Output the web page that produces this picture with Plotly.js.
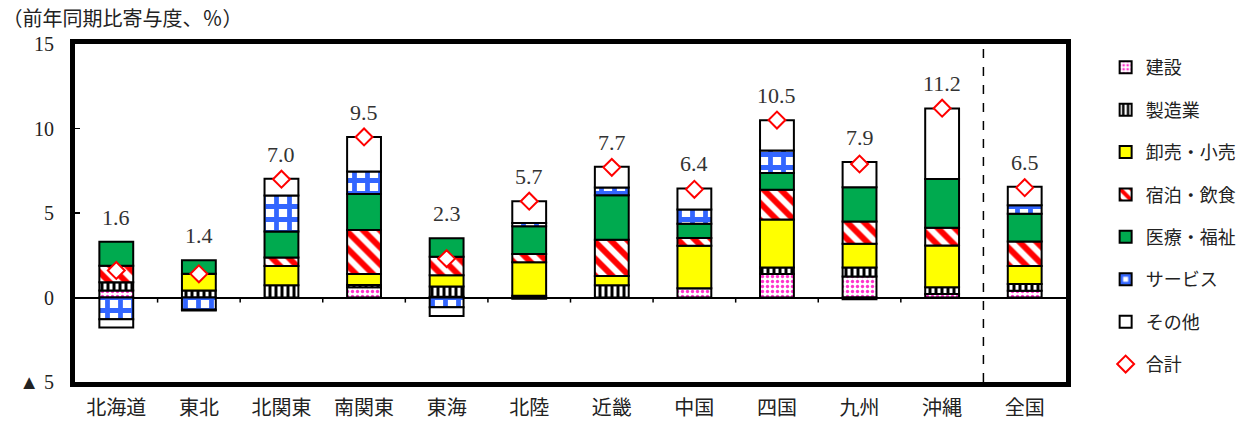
<!DOCTYPE html>
<html>
<head>
<meta charset="utf-8">
<script src="https://cdn.plot.ly/plotly-3.0.1.min.js"></script>
<style>html,body{margin:0;padding:0;background:#fff;}#chart{width:1260px;height:421px;}</style>
</head>
<body>
<div id="chart"></div>
<script>
const categories = ['北海道','東北','北関東','南関東','東海','北陸','近畿','中国','四国','九州','沖縄','全国'];
const kensetsu   = [0.41, 0.00, 0.00, 0.60, 0.05, 0.10, 0.00, 0.54, 1.39, 1.24, 0.20, 0.40];
const seizo      = [0.49, 0.42, 0.73, 0.14, 0.60, -0.08, 0.73, 0.00, 0.38, 0.54, 0.40, 0.40];
const oroshi     = [0.00, 0.98, 1.13, 0.65, 0.67, 1.99, 0.54, 2.52, 2.85, 1.40, 2.47, 1.07];
const shukuhaku  = [0.98, 0.00, 0.50, 2.60, 1.09, 0.48, 2.15, 0.46, 1.75, 1.31, 1.06, 1.45];
const iryo       = [1.42, 0.80, 1.55, 2.14, 1.09, 1.64, 2.63, 0.85, 1.00, 2.03, 2.88, 1.64];
const service    = [-1.28, -0.72, 2.12, 1.33, -0.58, 0.20, 0.46, 0.84, 1.33, -0.10, 0.00, 0.50];
const sonota     = [-0.50, -0.05, 1.00, 2.04, -0.52, 1.28, 1.22, 1.24, 1.79, 1.50, 4.18, 1.09];
const total      = [1.6, 1.4, 7.0, 9.5, 2.3, 5.7, 7.7, 6.4, 10.5, 7.9, 11.2, 6.5];
const yTickVals  = [-5, 0, 5, 10, 15];
const yTickText  = ['▲ 5', '0', '5', '10', '15'];

const serif = 'Liberation Serif, Noto Sans CJK JP, serif';
const cjk = 'Noto Sans CJK JP, sans-serif';

function barTrace(name, y, color, pattern) {
  const marker = {color: color, line: {color: '#000', width: 2}};
  if (pattern) marker.pattern = pattern;
  return {type: 'bar', name: name, x: categories, y: y, marker: marker,
          legendgroup: name, hoverinfo: 'skip'};
}

const traces = [
  barTrace('建設', kensetsu, '#ffffff', {shape: '.', fgcolor: '#ff33cc', bgcolor: '#ffffff', size: 5, solidity: 0.35, fillmode: 'replace'}),
  barTrace('製造業', seizo, '#ffffff', {shape: '|', fgcolor: '#000000', bgcolor: '#ffffff', size: 6, solidity: 0.5, fillmode: 'replace'}),
  barTrace('卸売・小売', oroshi, '#ffff00'),
  barTrace('宿泊・飲食', shukuhaku, '#ffffff', {shape: '\\', fgcolor: '#ff0000', bgcolor: '#ffffff', size: 12, solidity: 0.5, fillmode: 'replace'}),
  barTrace('医療・福祉', iryo, '#00aa4f'),
  barTrace('サービス', service, '#ffffff', {shape: '+', fgcolor: '#3366ff', bgcolor: '#ffffff', size: 13, solidity: 0.6, fillmode: 'replace'}),
  barTrace('その他', sonota, '#ffffff'),
  {type: 'scatter', mode: 'markers', name: '合計', x: categories, y: total,
   legendgroup: '合計', hoverinfo: 'skip',
   marker: {symbol: 'diamond', size: 13, color: '#ffffff', line: {color: '#ff0000', width: 2}}}
];

// Labels above the top of each positive stack
const posSeries = [kensetsu, seizo, oroshi, shukuhaku, iryo, service, sonota];
const annotations = categories.map((c, i) => {
  let top = 0;
  posSeries.forEach(s => { if (s[i] > 0) top += s[i]; });
  top = Math.max(top, total[i]);
  return {x: c, y: top, xref: 'x', yref: 'y', text: total[i].toFixed(1),
          showarrow: false, yanchor: 'bottom', yshift: 10,
          font: {family: serif, size: 22, color: '#333'}};
});

// tick marks on the zero line between regions
const shapes = [];
for (let i = 0; i < categories.length - 2; i++) {
  shapes.push({type: 'line', xref: 'x', yref: 'y', x0: i + 0.5, x1: i + 0.5, y0: 0, y1: -0.3,
               line: {color: '#000', width: 1.5}});
}
shapes.push({type: 'line', xref: 'x', yref: 'paper', x0: categories.length - 1.5, x1: categories.length - 1.5,
             y0: 0, y1: 1, line: {color: '#000', width: 1.5, dash: 'dash'}});

const layout = {
  width: 1260, height: 421,
  margin: {l: 75, r: 194, t: 44, b: 39},
  paper_bgcolor: '#fff', plot_bgcolor: '#fff',
  barmode: 'relative', bargap: 0.59,
  showlegend: true,
  title: {text: '（前年同期比寄与度、％）', xref: 'container', yref: 'container',
          x: 0.002, xanchor: 'left', y: 0.955, yanchor: 'middle',
          font: {family: cjk, size: 20, color: '#222'}},
  xaxis: {type: 'category', range: [-0.5, categories.length - 0.5],
          showline: true, linewidth: 5, linecolor: '#000', mirror: true,
          showgrid: false, zeroline: false, ticks: '', ticklabelstandoff: 4,
          tickfont: {family: cjk, size: 20, color: '#222'}, fixedrange: true},
  yaxis: {range: [-5, 15], tickvals: yTickVals, ticktext: yTickText,
          showline: true, linewidth: 5, linecolor: '#000', mirror: true,
          showgrid: false, zeroline: true, zerolinecolor: '#000', zerolinewidth: 2,
          ticks: 'inside', ticklen: 5, tickwidth: 1.5, tickcolor: '#000', ticklabelstandoff: 12,
          tickfont: {family: serif, size: 20, color: '#222'}, fixedrange: true},
  legend: {x: 1.04, xanchor: 'left', y: 0.985, yanchor: 'top', traceorder: 'grouped',
           tracegroupgap: 16, font: {family: cjk, size: 18, color: '#222'},
           bgcolor: 'rgba(0,0,0,0)'},
  annotations: annotations,
  shapes: shapes
};

Plotly.newPlot('chart', traces, layout, {displayModeBar: false, staticPlot: true});
</script>
</body>
</html>
